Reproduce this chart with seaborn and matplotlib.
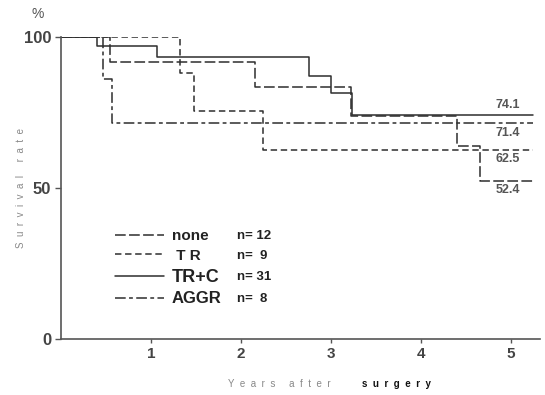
import numpy as np
import pandas as pd
import matplotlib
matplotlib.use("Agg")
import matplotlib.pyplot as plt
import seaborn as sns

# ---- data ----
groups = ["none", "T R", "TR+C", "AGGR"]
n_labels = ["n= 12", "n=  9", "n= 31", "n=  8"]

none_t = [0, 0.55, 2.16, 3.22, 4.40, 4.66, 5.25]
none_s = [100, 91.7, 83.3, 73.7, 63.9, 52.4, 52.4]
tr_t = [0, 1.32, 1.48, 2.25, 5.25]
tr_s = [100, 88.0, 75.6, 62.5, 62.5]
trc_t = [0, 0.40, 1.07, 2.76, 3.00, 3.24, 5.25]
trc_s = [100, 97.0, 93.3, 87.2, 81.5, 74.1, 74.1]
aggr_t = [0, 0.47, 0.57, 5.25]
aggr_s = [100, 86.0, 71.4, 71.4]

end_labels = ["74.1", "71.4", "62.5", "52.4"]
end_values = [74.1, 71.4, 62.5, 52.4]
x_ticks = [1, 2, 3, 4, 5]
y_ticks = [0, 50, 100]

# ---- table ----
frames = []
for g, t, s in zip(groups, [none_t, tr_t, trc_t, aggr_t], [none_s, tr_s, trc_s, aggr_s]):
    frames.append(pd.DataFrame({"t": t, "s": s, "group": g}))
df = pd.concat(frames, ignore_index=True)

sns.set_theme(style="white")
plt.rcParams["font.family"] = ["Liberation Sans", "DejaVu Sans"]

ink = "#2e2e2e"
fig = plt.figure(figsize=(5.45, 3.95), dpi=100)
ax = fig.add_axes([61 / 545, 1 - 339 / 395, (540 - 61) / 545, (339 - 37) / 395])

dashes = {"none": (7, 2.2), "T R": (4.2, 2.4), "TR+C": "", "AGGR": (7, 2.2, 2.5, 2.2)}
sns.lineplot(data=df, x="t", y="s", style="group", style_order=groups, dashes=dashes,
             color=ink, estimator=None, sort=False, drawstyle="steps-post",
             legend=False, linewidth=1.1, ax=ax)

ax.set_xlim(0, (540 - 60.7) / 90)
ax.set_ylim(0, 100)
ax.set_xticks(x_ticks)
ax.set_xticklabels([str(v) for v in x_ticks])
ax.set_yticks(y_ticks)
ax.set_yticklabels([str(v) for v in y_ticks])
for side in ["top", "right"]:
    ax.spines[side].set_visible(False)
for side in ["left", "bottom"]:
    ax.spines[side].set_color("#555555")
    ax.spines[side].set_linewidth(1.2)
ax.tick_params(axis="both", which="major", direction="out", length=4, width=1,
               color="#555555", labelcolor="#444444", bottom=True, left=True)
ax.tick_params(axis="y", labelsize=12, pad=3)
ax.tick_params(axis="x", labelsize=11, pad=3, length=3)
for lbl in ax.get_xticklabels() + ax.get_yticklabels():
    lbl.set_fontweight("bold")
ax.set_xlabel("")
ax.set_ylabel("")

# end value labels
offsets = [10, -10, -9, -9]
for lab, val, dy in zip(end_labels, end_values, offsets):
    ax.annotate(lab, xy=(4.97, val), xytext=(0, dy), textcoords="offset pixels",
                ha="center", va="center", fontsize=9, fontweight="bold", color="#555555")

# legend
leg = ax.legend(handles=ax.lines[:4], labels=["none", " T R", "TR+C", "AGGR"],
                loc="upper left", bbox_to_anchor=(115 / 545, 1 - 229 / 395),
                bbox_transform=fig.transFigure, frameon=False, borderpad=0,
                borderaxespad=0, handlelength=3.2, handletextpad=0.5,
                labelspacing=0.38, prop={"weight": "bold", "size": 11})
label_sizes = [11, 11, 13, 12]
for t, fs in zip(leg.get_texts(), label_sizes):
    t.set_color("#222222")
    t.set_fontsize(fs)

fig.canvas.draw()
H = fig.bbox.height
for t, nl in zip(leg.get_texts(), n_labels):
    bb = t.get_window_extent()
    yc = (bb.y0 + bb.y1) / 2
    fig.text(237 / 545, yc / H, nl, ha="left", va="center", fontsize=9.5,
             fontweight="bold", color="#222222")

# axis annotations
fig.text(38 / 545, 1 - 14 / 395, "%", ha="center", va="center", fontsize=10, color="#555555")
fig.text(21 / 545, 1 - 188 / 395, "S  u  r  v  i  v  a  l     r  a  t  e", rotation=90,
         ha="center", va="center", fontsize=7, color="#888888")
fig.text(228 / 545, 1 - 384 / 395, "Y  e  a  r  s     a  f  t  e  r", ha="left", va="center",
         fontsize=7, color="#888888")
fig.text(362 / 545, 1 - 384 / 395, "s  u  r  g  e  r  y", ha="left", va="center",
         fontsize=7, fontweight="bold", color="#111111")

fig.savefig("out.png", dpi=100, facecolor="white")
